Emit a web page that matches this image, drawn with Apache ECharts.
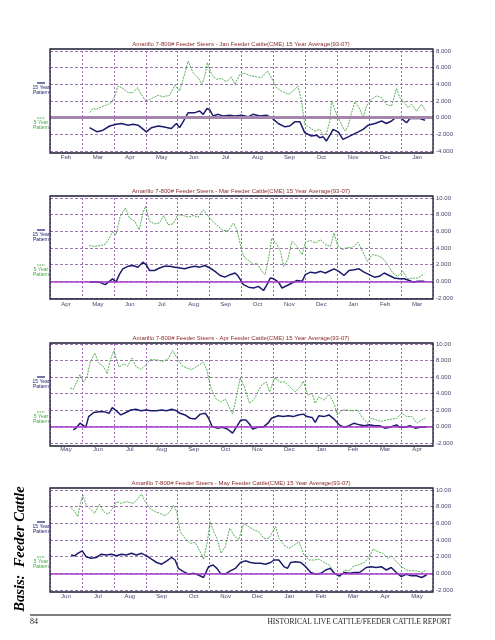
<!DOCTYPE html>
<html><head><meta charset="utf-8">
<script src="https://cdn.jsdelivr.net/npm/echarts@6/dist/echarts.min.js"></script>
<style>html,body{margin:0;padding:0;background:#fff}#c{width:495px;height:640px}</style>
</head><body><div id="c"></div><script>
// ---------- DATA ----------
const monthsJan = ['Feb','Mar','Apr','May','Jun','Jul','Aug','Sep','Oct','Nov','Dec','Jan'];
const monthsMar = ['Apr','May','Jun','Jul','Aug','Sep','Oct','Nov','Dec','Jan','Feb','Mar'];
const monthsApr = ['May','Jun','Jul','Aug','Sep','Oct','Nov','Dec','Jan','Feb','Mar','Apr'];
const monthsMay = ['Jun','Jul','Aug','Sep','Oct','Nov','Dec','Jan','Feb','Mar','Apr','May'];

const titleJan = 'Amarillo 7-800# Feeder Steers - Jan Feeder Cattle(CME) 15 Year Average(93-07)';
const titleMar = 'Amarillo 7-800# Feeder Steers - Mar Feeder Cattle(CME) 15 Year Average(93-07)';
const titleApr = 'Amarillo 7-800# Feeder Steers - Apr Feeder Cattle(CME) 15 Year Average(93-07)';
const titleMay = 'Amarillo 7-800# Feeder Steers - May Feeder Cattle(CME) 15 Year Average(93-07)';

const yTicksJan = [-4, -2, 0, 2, 4, 6, 8];
const yTicksOther = [-2, 0, 2, 4, 6, 8, 10];

// x = months since start of first month shown, y = basis ($)
const jan15 = [[1.24,-1.2],[1.30,-1.2],[1.48,-1.7],[1.66,-1.5],[1.87,-1.0],[2.08,-0.8],[2.24,-0.7],[2.45,-0.9],[2.60,-0.8],[2.76,-0.9],[3.02,-1.7],[3.18,-1.2],[3.39,-1.0],[3.54,-1.1],[3.80,-1.3],[3.96,-0.7],[4.06,-1.2],[4.17,-0.5],[4.33,0.6],[4.54,0.6],[4.69,0.8],[4.80,0.4],[4.92,1.1],[5.01,0.9],[5.11,0.2],[5.27,0.4],[5.42,0.2],[5.63,0.3],[5.79,0.2],[6.00,0.3],[6.21,0.1],[6.36,0.4],[6.57,0.2],[6.78,0.3],[6.94,0.0],[7.15,-0.7],[7.36,-1.1],[7.51,-1.0],[7.67,-0.5],[7.83,-0.5],[7.98,-1.8],[8.19,-2.2],[8.35,-2.1],[8.45,-2.4],[8.56,-2.3],[8.66,-2.8],[8.77,-2.1],[8.87,-1.4],[9.03,-1.7],[9.18,-2.6],[9.34,-2.3],[9.50,-2.0],[9.66,-1.7],[9.81,-1.4],[9.97,-0.9],[10.18,-0.7],[10.39,-0.4],[10.54,-0.7],[10.70,-0.4],[10.86,0.1],[11.01,-0.1],[11.17,-0.6],[11.28,-0.1],[11.43,-0.1],[11.59,-0.1],[11.75,-0.3]];
const jan5 = [[1.24,0.6],[1.35,1.1],[1.45,1.0],[1.61,1.3],[1.77,1.5],[1.92,1.8],[2.03,2.6],[2.13,3.8],[2.29,3.5],[2.45,3.0],[2.60,3.0],[2.74,3.6],[2.86,2.8],[3.02,1.9],[3.18,2.3],[3.39,2.7],[3.54,2.5],[3.75,2.7],[3.91,3.9],[4.06,3.2],[4.17,4.6],[4.33,6.8],[4.48,5.4],[4.64,4.8],[4.76,4.0],[4.85,5.0],[4.93,6.6],[5.06,5.2],[5.21,4.6],[5.37,4.7],[5.53,4.3],[5.68,4.9],[5.79,4.0],[5.95,5.2],[6.10,5.3],[6.31,5.0],[6.47,4.9],[6.62,4.8],[6.81,5.6],[6.94,4.8],[7.09,3.6],[7.25,3.2],[7.46,2.8],[7.62,3.2],[7.77,3.8],[7.88,2.0],[7.98,-0.8],[8.14,-1.2],[8.30,-1.6],[8.45,-1.4],[8.56,-2.1],[8.66,-1.9],[8.77,-0.4],[8.82,2.0],[8.92,1.0],[9.03,0.0],[9.13,-0.8],[9.24,-1.6],[9.34,-1.0],[9.45,0.6],[9.55,1.9],[9.71,1.0],[9.81,0.0],[9.92,1.4],[10.07,2.2],[10.23,2.6],[10.39,2.4],[10.54,1.6],[10.70,1.4],[10.86,3.5],[10.96,2.4],[11.07,2.0],[11.22,1.2],[11.33,1.6],[11.48,0.8],[11.64,1.6],[11.77,0.8]];
const mar15 = [[1.23,-0.1],[1.39,-0.05],[1.54,-0.1],[1.73,-0.4],[1.86,0],[1.96,0.3],[2.07,-0.1],[2.17,0.8],[2.28,1.5],[2.44,1.8],[2.59,1.9],[2.75,1.7],[2.91,2.3],[3.01,2.0],[3.12,1.3],[3.28,1.3],[3.43,1.6],[3.59,1.8],[3.75,1.8],[3.91,1.7],[4.07,1.6],[4.22,1.5],[4.38,1.7],[4.54,1.8],[4.70,1.7],[4.85,1.9],[5.01,1.6],[5.17,1.2],[5.33,0.7],[5.48,0.5],[5.64,0.8],[5.80,1.0],[5.90,0.6],[6.06,-0.4],[6.22,-0.7],[6.38,-0.8],[6.53,-0.6],[6.69,-1.1],[6.80,-0.4],[6.90,0.4],[7.01,0.3],[7.16,-0.1],[7.27,-0.8],[7.43,-0.5],[7.58,-0.2],[7.74,0.1],[7.90,0.0],[8.00,0.8],[8.16,1.1],[8.32,1.0],[8.48,1.2],[8.63,1.0],[8.79,1.3],[8.90,1.5],[9.05,1.2],[9.21,0.7],[9.37,1.3],[9.53,1.4],[9.68,1.5],[9.84,1.1],[10.00,0.8],[10.16,0.5],[10.32,0.6],[10.47,1.0],[10.63,0.7],[10.79,0.4],[10.95,0.3],[11.10,0.3],[11.26,0.1],[11.37,-0.1],[11.52,0.0],[11.73,0.0]];
const mar5 = [[1.23,4.3],[1.39,4.2],[1.60,4.3],[1.75,4.5],[1.86,5.2],[1.96,5.9],[2.07,5.6],[2.20,7.8],[2.36,8.8],[2.49,7.6],[2.65,7.2],[2.80,6.2],[2.91,8.2],[2.99,9.0],[3.12,7.2],[3.28,6.9],[3.43,7.0],[3.56,7.9],[3.70,6.8],[3.86,6.9],[4.01,8.0],[4.17,7.9],[4.33,7.7],[4.49,7.9],[4.64,7.7],[4.80,8.6],[4.96,7.8],[5.12,7.1],[5.27,6.6],[5.43,6.1],[5.59,6.1],[5.75,7.0],[5.85,6.2],[5.93,5.0],[6.01,3.6],[6.11,2.8],[6.27,2.4],[6.38,2.0],[6.48,2.2],[6.64,1.2],[6.74,0.8],[6.85,2.8],[6.95,5.2],[7.11,4.4],[7.22,3.6],[7.32,1.8],[7.45,2.6],[7.58,4.8],[7.74,4.2],[7.90,3.2],[8.00,4.7],[8.16,4.9],[8.32,4.6],[8.48,5.0],[8.63,4.4],[8.79,4.2],[8.90,5.8],[9.00,4.4],[9.16,3.8],[9.32,4.1],[9.47,4.0],[9.65,4.7],[9.79,3.6],[9.95,2.4],[10.10,3.2],[10.26,3.1],[10.42,2.8],[10.58,2.0],[10.74,1.0],[10.89,0.6],[11.05,1.2],[11.21,0.3],[11.37,0.4],[11.52,0.4],[11.73,0.9]];
const apr15 = [[0.73,-0.4],[0.84,-0.1],[0.94,0.4],[1.05,0.1],[1.12,-0.1],[1.21,1.2],[1.37,1.7],[1.53,1.8],[1.69,1.8],[1.85,1.6],[1.95,2.3],[2.08,1.9],[2.22,1.4],[2.38,1.7],[2.53,2.0],[2.69,2.1],[2.85,1.9],[3.01,2.0],[3.17,1.9],[3.33,1.9],[3.49,2.0],[3.65,1.9],[3.81,2.1],[3.97,1.9],[4.07,1.6],[4.23,1.4],[4.39,1.0],[4.55,0.9],[4.71,1.5],[4.87,1.6],[4.97,1.0],[5.08,0.0],[5.24,-0.2],[5.40,-0.1],[5.56,-0.3],[5.72,-0.8],[5.87,0.1],[5.98,0.8],[6.14,0.8],[6.25,0.3],[6.35,-0.3],[6.51,-0.1],[6.67,-0.1],[6.83,0.4],[6.94,1.0],[7.15,1.3],[7.31,1.2],[7.47,1.3],[7.62,1.2],[7.78,1.4],[7.94,1.5],[8.05,1.2],[8.21,1.1],[8.31,0.5],[8.42,1.3],[8.58,1.2],[8.74,1.4],[8.90,0.9],[9.06,0.2],[9.22,-0.1],[9.37,0.1],[9.53,0.4],[9.69,0.2],[9.85,0.1],[10.01,0.2],[10.17,0.1],[10.33,0.1],[10.49,-0.2],[10.65,-0.1],[10.86,0.2],[10.96,-0.1],[11.12,-0.1],[11.28,0.1],[11.44,-0.2],[11.60,-0.1],[11.79,-0.1]];
const apr5 = [[0.63,4.7],[0.73,4.5],[0.84,5.4],[0.94,6.3],[1.05,5.4],[1.16,6.0],[1.26,7.8],[1.40,8.9],[1.53,7.7],[1.69,7.2],[1.79,6.4],[1.90,8.2],[2.00,9.2],[2.16,7.2],[2.32,7.6],[2.43,7.3],[2.57,8.3],[2.69,7.3],[2.85,6.9],[3.01,7.5],[3.14,8.1],[3.33,8.1],[3.54,7.9],[3.70,8.2],[3.84,9.2],[3.97,8.4],[4.13,7.4],[4.28,7.1],[4.44,6.9],[4.60,7.3],[4.81,7.8],[4.92,6.8],[5.03,4.8],[5.19,3.4],[5.34,3.0],[5.50,3.3],[5.61,2.4],[5.72,1.5],[5.82,3.2],[5.96,5.9],[6.09,4.8],[6.25,2.8],[6.41,3.4],[6.62,5.0],[6.78,5.4],[6.88,4.2],[7.04,5.9],[7.20,5.4],[7.36,5.4],[7.52,4.8],[7.68,4.2],[7.84,4.8],[7.94,5.5],[8.08,3.8],[8.21,4.0],[8.31,2.8],[8.42,3.6],[8.58,3.2],[8.74,3.9],[8.90,2.8],[9.00,1.4],[9.16,2.0],[9.32,2.0],[9.48,1.9],[9.64,2.0],[9.80,1.0],[9.96,0.4],[10.06,1.0],[10.22,0.8],[10.38,0.6],[10.54,0.8],[10.70,0.9],[10.86,1.0],[11.02,1.6],[11.18,1.2],[11.34,1.2],[11.50,0.4],[11.65,0.8],[11.76,1.0]];
const may15 = [[0.66,2.2],[0.77,2.1],[0.87,2.4],[1.01,2.7],[1.13,2.0],[1.29,1.8],[1.45,1.9],[1.61,2.3],[1.76,2.2],[1.92,2.3],[2.08,2.1],[2.24,2.3],[2.39,2.2],[2.55,2.4],[2.71,2.2],[2.87,2.4],[3.03,2.1],[3.18,1.7],[3.34,1.3],[3.50,1.1],[3.66,1.5],[3.81,1.9],[3.92,1.6],[4.02,0.6],[4.18,0.2],[4.34,-0.1],[4.50,0.0],[4.65,-0.2],[4.81,-0.5],[4.97,0.8],[5.11,1.0],[5.23,0.6],[5.34,0.0],[5.49,-0.1],[5.65,0.3],[5.81,0.6],[5.97,1.3],[6.12,1.5],[6.28,1.3],[6.44,1.2],[6.60,1.2],[6.75,1.1],[6.91,1.3],[7.02,1.6],[7.17,1.6],[7.33,0.8],[7.44,0.6],[7.54,1.3],[7.70,1.4],[7.86,1.3],[8.01,0.8],[8.17,0.1],[8.33,-0.1],[8.49,0.0],[8.64,0.4],[8.78,0.6],[8.91,0.0],[9.07,-0.3],[9.22,0.1],[9.38,0.0],[9.54,0.1],[9.70,0.1],[9.91,0.7],[10.06,0.8],[10.22,0.7],[10.38,0.8],[10.54,0.4],[10.69,0.7],[10.85,0.1],[11.01,-0.4],[11.17,-0.1],[11.32,-0.3],[11.48,-0.3],[11.64,-0.5],[11.80,-0.2]];
const may5 = [[0.66,7.9],[0.77,7.4],[0.87,6.8],[0.95,8.4],[1.03,9.4],[1.13,8.2],[1.24,7.8],[1.40,7.2],[1.55,8.3],[1.68,7.4],[1.82,7.1],[1.97,7.8],[2.08,8.6],[2.24,8.4],[2.39,8.6],[2.61,8.4],[2.76,9.0],[2.87,9.5],[2.97,8.7],[3.13,7.8],[3.29,7.4],[3.45,7.2],[3.60,6.9],[3.76,7.4],[3.87,8.2],[3.97,7.4],[4.08,5.0],[4.23,4.2],[4.39,3.6],[4.55,3.7],[4.71,2.6],[4.81,1.7],[4.92,3.6],[5.02,6.2],[5.13,5.0],[5.23,4.2],[5.36,2.4],[5.49,3.2],[5.63,5.4],[5.76,4.6],[5.91,4.0],[6.07,6.0],[6.23,5.6],[6.39,5.2],[6.54,5.0],[6.70,4.2],[6.86,4.2],[7.07,5.6],[7.17,4.2],[7.33,3.4],[7.49,3.0],[7.65,3.4],[7.80,3.8],[7.96,2.2],[8.12,1.6],[8.28,1.6],[8.43,1.7],[8.59,1.3],[8.75,1.0],[8.91,0.0],[9.07,-0.5],[9.22,0.4],[9.38,0.3],[9.49,0.8],[9.64,1.0],[9.85,1.3],[10.01,2.0],[10.12,2.9],[10.27,2.6],[10.43,2.4],[10.59,1.8],[10.69,2.1],[10.85,1.4],[11.01,0.8],[11.17,0.4],[11.32,0.3],[11.48,0.3],[11.64,0.1],[11.80,0.4]];

// ---------- LAYOUT ----------
const panels = [
  {months: monthsJan, title: titleJan, ticks: yTicksJan, s15: jan15, s5: jan5, top: 51, h: 100, box: [49, 153], zeroColor: '#a485ab', zeroW: 3},
  {months: monthsMar, title: titleMar, ticks: yTicksOther, s15: mar15, s5: mar5, top: 198, h: 100, box: [196, 299], zeroColor: '#a83ccc', zeroW: 1.6},
  {months: monthsApr, title: titleApr, ticks: yTicksOther, s15: apr15, s5: apr5, top: 344, h: 99, box: [343, 446], zeroColor: '#a83ccc', zeroW: 1.6},
  {months: monthsMay, title: titleMay, ticks: yTicksOther, s15: may15, s5: may5, top: 490, h: 100, box: [488, 592], zeroColor: '#a83ccc', zeroW: 1.6}
];
const L = 50, W = 383;
const navy = '#1c1c6e', green = '#45a545', lab = '#44446e';
const sans = 'Liberation Sans, Arial, sans-serif';
const serif = 'Liberation Serif, Times New Roman, serif';

const grid = [], xAxis = [], yAxis = [], series = [], title = [], graphic = [];
panels.forEach((p, i) => {
  grid.push({left: L, width: W, top: p.top, height: p.h, show: false});
  xAxis.push({type: 'value', gridIndex: i, min: 0, max: 12, interval: 1,
    axisLabel: {show: false}, axisLine: {show: false}, axisTick: {show: false},
    splitLine: {show: true, lineStyle: {color: '#a566c0', type: [2, 2], width: 1}}});
  xAxis.push({type: 'category', gridIndex: i, data: p.months, boundaryGap: true, position: 'bottom',
    axisLine: {show: false}, axisTick: {show: false}, splitLine: {show: false},
    axisLabel: {show: true, margin: 3, fontSize: 6, color: lab, fontFamily: sans, interval: 0}});
  const mn = p.ticks[0], mx = p.ticks[p.ticks.length - 1];
  yAxis.push({type: 'value', gridIndex: i, min: mn, max: mx, interval: 2, position: 'right',
    axisLine: {show: false}, axisTick: {show: false},
    axisLabel: {show: true, margin: 3, fontSize: 6, color: lab, fontFamily: sans,
      formatter: v => (v === 10 ? '10.00' : v.toFixed(3))},
    splitLine: {show: true, lineStyle: {color: '#9a78a8', type: [3, 2], width: 1}}});
  series.push({type: 'line', xAxisIndex: 2 * i, yAxisIndex: i, data: [], z: 2, silent: true,
    markLine: {silent: true, symbol: 'none', label: {show: false},
      lineStyle: {color: p.zeroColor, width: p.zeroW, type: 'solid'}, data: [{yAxis: 0}]}});
  series.push({type: 'line', name: '5 Year Pattern', xAxisIndex: 2 * i, yAxisIndex: i, data: p.s5, z: 3,
    showSymbol: false, symbol: 'none', lineStyle: {color: green, width: 0.9, type: [2, 1]}});
  series.push({type: 'line', name: '15 Year Pattern', xAxisIndex: 2 * i, yAxisIndex: i, data: p.s15, z: 4,
    showSymbol: false, symbol: 'none', lineStyle: {color: navy, width: 1.5}});
  title.push({text: p.title, left: 241, top: p.box[0] - 8, textAlign: 'center', padding: 0,
    textStyle: {fontSize: 6, fontWeight: 'normal', color: '#8b2a2a', fontFamily: sans}});
  graphic.push({type: 'rect', shape: {x: L, y: p.box[0], width: W, height: p.box[1] - p.box[0]},
    style: {fill: null, stroke: '#1a1a33', lineWidth: 1.3}, z: 10, silent: true});
  const ly = p.box[0] + 34;
  graphic.push({type: 'line', shape: {x1: 37, y1: ly, x2: 45, y2: ly}, style: {stroke: navy, lineWidth: 1.2}});
  graphic.push({type: 'text', x: 41, y: ly + 2, style: {text: '15 Year\nPattern', fill: navy, fontSize: 5, lineHeight: 5, align: 'center', verticalAlign: 'top', fontFamily: sans}});
  graphic.push({type: 'line', shape: {x1: 37, y1: ly + 35, x2: 45, y2: ly + 35}, style: {stroke: green, lineWidth: 1, lineDash: [1.5, 1]}});
  graphic.push({type: 'text', x: 41, y: ly + 37, style: {text: '5 Year\nPattern', fill: green, fontSize: 5, lineHeight: 5, align: 'center', verticalAlign: 'top', fontFamily: sans}});
});

graphic.push({type: 'text', x: 20, y: 549, rotation: Math.PI / 2, style: {text: 'Basis:  Feeder Cattle', fill: '#000', fontSize: 14.5, fontWeight: 'bold', fontStyle: 'italic', fontFamily: serif, align: 'center', verticalAlign: 'middle'}});
graphic.push({type: 'line', shape: {x1: 30, y1: 615, x2: 451, y2: 615}, style: {stroke: '#000', lineWidth: 1.2}});
graphic.push({type: 'text', x: 30, y: 622, style: {text: '84', fill: '#222', fontSize: 8, fontFamily: serif, verticalAlign: 'middle'}});
graphic.push({type: 'text', x: 451, y: 622, style: {text: 'HISTORICAL LIVE CATTLE/FEEDER CATTLE REPORT', fill: '#222', fontSize: 7.5, fontFamily: serif, align: 'right', verticalAlign: 'middle'}});

const chart = echarts.init(document.getElementById('c'), null, {renderer: 'canvas'});
chart.setOption({animation: false, backgroundColor: '#fff', title, grid, xAxis, yAxis, series, graphic});
</script></body></html>
